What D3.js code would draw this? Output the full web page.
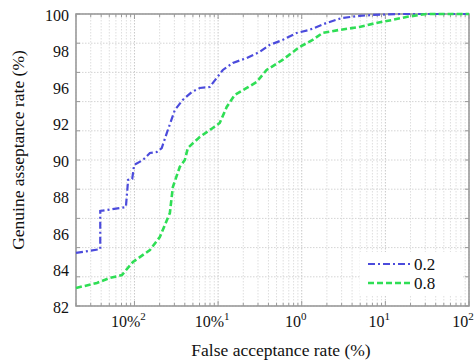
<!DOCTYPE html>
<html>
<head>
<meta charset="utf-8">
<script src="https://cdn.jsdelivr.net/npm/d3@7"></script>
<style>
  body { margin: 0; background: #fff; }
  svg text { font-family: "Liberation Serif", "Times New Roman", "DejaVu Serif", serif; }
</style>
</head>
<body>
<div id="chart"></div>
<script>
// series: false acceptance rate (%) vs genuine acceptance rate (%)
const seriesNames = ["0.2", "0.8"];

const blueFar = [0.0020, 0.0039, 0.0039, 0.0079, 0.0084, 0.0094, 0.0099, 0.0126, 0.0153, 0.0185,
  0.0212, 0.0244, 0.0304, 0.0378, 0.0484, 0.0604, 0.0794, 0.0964, 0.114, 0.150,
  0.220, 0.314, 0.413, 0.590, 0.867, 1.24, 1.98, 3.07, 4.90, 7.0, 14.7, 25.5, 100];
const blueGar = [85.27, 85.51, 87.86, 88.10, 89.77, 89.83, 90.69, 91.00, 91.43, 91.49,
  91.74, 92.67, 94.08, 94.70, 95.19, 95.44, 95.50, 96.06, 96.55, 96.98,
  97.29, 97.66, 98.09, 98.40, 98.83, 99.02, 99.45, 99.76, 99.88, 99.94, 100, 100, 100];

const greenFar = [0.0020, 0.00356, 0.00509, 0.00708, 0.00958, 0.0153, 0.0201, 0.0265, 0.0288, 0.0348,
  0.0400, 0.0435, 0.0604, 0.0863, 0.1045, 0.1268, 0.158, 0.220, 0.289, 0.380,
  0.590, 0.942, 1.35, 1.77, 2.83, 4.90, 7.82, 12.1, 17.8, 30.9, 53.5, 100];
const greenGar = [83.11, 83.42, 83.73, 83.91, 84.71, 85.45, 86.25, 87.73, 89.34, 90.57,
  91.00, 91.74, 92.42, 92.97, 93.28, 94.27, 95.01, 95.44, 95.81, 96.55,
  97.17, 97.97, 98.40, 98.83, 99.02, 99.20, 99.45, 99.63, 99.82, 100, 100, 100];

const yTickLabels = ["100", "98", "96", "92", "90", "88", "86", "84", "82"];
const xTickValues = [0.01, 0.1, 1, 10, 100];
const xTickBase = ["10%", "10%", "10", "10", "10"];
const xTickExp = ["2", "1", "0", "1", "2"];

const width = 476, height = 362;
const plot = {left: 76, top: 14, right: 469, bottom: 306};

const svg = d3.select("#chart").append("svg")
  .attr("width", width)
  .attr("height", height);

const x = d3.scaleLog().domain([0.002, 100]).range([plot.left, plot.right]);
const y = d3.scaleLinear().domain([82, 100]).range([plot.bottom, plot.top]);
const yLab = d3.scalePoint().domain(yTickLabels).range([plot.top + 1.5, plot.bottom + 1]);

// grid
const grid = svg.append("g").attr("class", "grid");
const minorX = [];
[0.001, 0.01, 0.1, 1, 10].forEach(dec => {
  for (let k = 1; k < 10; k++) {
    const v = dec * k;
    if (v >= 0.002 && v <= 100) minorX.push(v);
  }
});
minorX.push(100);
grid.selectAll("line.vx").data(minorX).join("line")
  .attr("class", "vx")
  .attr("x1", d => x(d)).attr("x2", d => x(d))
  .attr("y1", plot.top).attr("y2", plot.bottom)
  .attr("stroke", d => xTickValues.includes(d) ? "#c8c8c8" : "#dedede")
  .attr("stroke-width", 1)
  .attr("stroke-dasharray", "1.5,1.5");

const hGrid = d3.range(0, 11).map(i => 82 + i * 1.8);
grid.selectAll("line.hy").data(hGrid).join("line")
  .attr("class", "hy")
  .attr("x1", plot.left).attr("x2", plot.right)
  .attr("y1", d => y(d)).attr("y2", d => y(d))
  .attr("stroke", "#d4d4d4")
  .attr("stroke-dasharray", "1.5,1.5");

// tick marks inside the frame
const ticks = svg.append("g").attr("stroke", "#999");
minorX.forEach(d => {
  const len = xTickValues.includes(d) ? 5 : 3;
  ticks.append("line").attr("x1", x(d)).attr("x2", x(d))
    .attr("y1", plot.bottom).attr("y2", plot.bottom - len);
  ticks.append("line").attr("x1", x(d)).attr("x2", x(d))
    .attr("y1", plot.top).attr("y2", plot.top + len);
});
hGrid.forEach(d => {
  ticks.append("line").attr("x1", plot.left).attr("x2", plot.left + 4)
    .attr("y1", y(d)).attr("y2", y(d));
  ticks.append("line").attr("x1", plot.right).attr("x2", plot.right - 4)
    .attr("y1", y(d)).attr("y2", y(d));
});

// frame
svg.append("rect")
  .attr("x", plot.left).attr("y", plot.top)
  .attr("width", plot.right - plot.left).attr("height", plot.bottom - plot.top)
  .attr("fill", "none").attr("stroke", "#9a9a9a").attr("stroke-width", 1.6);

// lines
const line = d3.line().x(d => x(d[0])).y(d => y(d[1]));
const series = [
  {name: seriesNames[0], pts: d3.zip(blueFar, blueGar), color: "#4b4bdc", dash: "7,3,2,3", w: 2.2},
  {name: seriesNames[1], pts: d3.zip(greenFar, greenGar), color: "#2fde55", dash: "6,3", w: 2.6}
];
svg.append("g").selectAll("path").data(series).join("path")
  .attr("d", d => line(d.pts))
  .attr("fill", "none")
  .attr("stroke", d => d.color)
  .attr("stroke-width", d => d.w)
  .attr("stroke-dasharray", d => d.dash);

// y tick labels
svg.append("g").selectAll("text").data(yTickLabels).join("text")
  .attr("x", 69)
  .attr("y", d => yLab(d))
  .attr("text-anchor", "end")
  .attr("dominant-baseline", "central")
  .attr("fill", "#111")
  .style("font-size", "16px")
  .text(d => d);

// x tick labels with superscripts
const xl = svg.append("g").selectAll("text").data(xTickValues).join("text")
  .attr("x", d => x(d) - 6)
  .attr("y", 327)
  .attr("text-anchor", "middle")
  .attr("fill", "#111")
  .style("font-size", "16px");
xl.append("tspan").text((d, i) => xTickBase[i]);
xl.append("tspan").attr("dy", -7).style("font-size", "11px").text((d, i) => xTickExp[i]);

// axis titles
svg.append("text")
  .attr("x", 281).attr("y", 356)
  .attr("text-anchor", "middle")
  .attr("fill", "#111")
  .style("font-size", "17.5px")
  .text("False acceptance rate (%)");
svg.append("text")
  .attr("transform", "translate(24,150) rotate(-90)")
  .attr("text-anchor", "middle")
  .attr("fill", "#111")
  .style("font-size", "17.5px")
  .text("Genuine asseptance rate (%)");

// legend
const lg = svg.append("g");
lg.append("rect").attr("x", 360).attr("y", 252).attr("width", 102).attr("height", 44).attr("fill", "#fff");
series.forEach((s, i) => {
  const ly = 264 + i * 19;
  lg.append("line").attr("x1", 368).attr("x2", 410).attr("y1", ly).attr("y2", ly)
    .attr("stroke", s.color).attr("stroke-width", s.w).attr("stroke-dasharray", s.dash);
  lg.append("text").attr("x", 414).attr("y", ly).attr("dominant-baseline", "central")
    .attr("fill", "#111")
    .style("font-size", "17px").text(s.name);
});
</script>
</body>
</html>
